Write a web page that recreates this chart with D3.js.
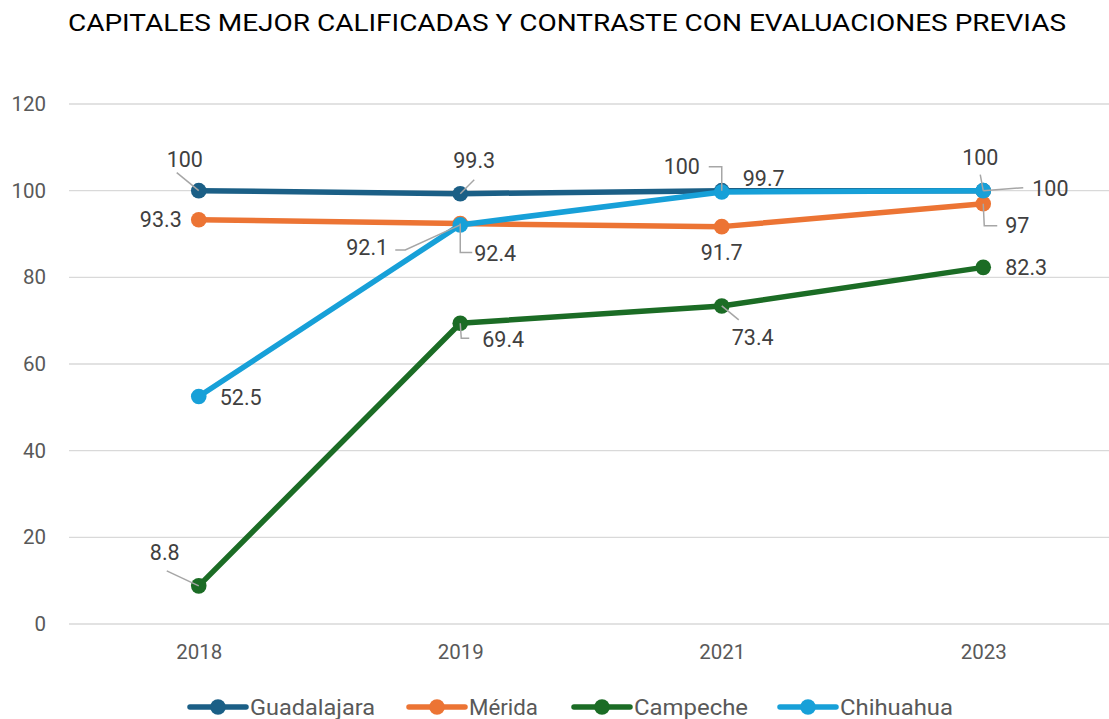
<!DOCTYPE html>
<html>
<head>
<meta charset="utf-8">
<script src="https://cdn.jsdelivr.net/npm/d3@7"></script>
<style>
  body { margin: 0; background: #fff; }
  text { font-family: Roboto, "Noto Sans", sans-serif; }
</style>
</head>
<body>
<svg id="chart" width="1109" height="719"></svg>
<script>
// Data =============================================================
var years = ['2018', '2019', '2021', '2023'];
var yTicks = [0, 20, 40, 60, 80, 100, 120];
var seriesNames = ['Guadalajara', 'Mérida', 'Campeche', 'Chihuahua'];
var guadalajara = [100, 99.3, 100, 100];
var merida = [93.3, 92.4, 91.7, 97];
var campeche = [8.8, 69.4, 73.4, 82.3];
var chihuahua = [52.5, 92.1, 99.7, 100];

var colors = ['#1b5f86', '#ec7434', '#1b6c25', '#17a0d8'];
var series = [guadalajara, merida, campeche, chihuahua];

// label placement: dx, dy, anchor, leader points relative to the point
var labelPos = [
  [
    [-14, -31, 'middle', [[-22, -18], [0, 0]]],
    [14, -33, 'middle', [[14, -14], [0, 0]]],
    [-40, -24, 'middle', [[-13, -24], [0, -24], [0, 0]]],
    [-3, -33, 'middle', [[-3, -16], [0, 0]]]
  ],
  [
    [-17, 0, 'end', null],
    [14, 30, 'start', [[0, 0], [0, 29], [12, 29]]],
    [0, 26, 'middle', null],
    [22, 22, 'start', [[0, 0], [1, 22], [14, 22]]]
  ],
  [
    [-34, -33, 'middle', [[-32, -15], [0, 0]]],
    [22, 16, 'start', [[0, 0], [1, 15], [9, 15]]],
    [31, 32, 'middle', [[0, 0], [17, 14]]],
    [22, 0, 'start', null]
  ],
  [
    [21, 1, 'start', null],
    [-93, 23, 'middle', [[-65, 25], [-55, 25], [0, 0]]],
    [42, -13, 'middle', null],
    [49, -2, 'start', [[0, 0], [40, -3]]]
  ]
];

// Chart =============================================================
var svg = d3.select('#chart');

var x = d3.scalePoint().domain(years).range([68, 1114]).padding(0.5);
var y = d3.scaleLinear().domain([0, 120]).range([624, 104]);

svg.append('text')
  .attr('x', 567).attr('y', 31)
  .attr('text-anchor', 'middle')
  .attr('font-size', 24)
  .attr('fill', '#000')
  .attr('textLength', 998)
  .attr('lengthAdjust', 'spacingAndGlyphs')
  .text('CAPITALES MEJOR CALIFICADAS Y CONTRASTE CON EVALUACIONES PREVIAS');

// gridlines
svg.append('g').selectAll('line')
  .data(yTicks).enter().append('line')
  .attr('x1', 69).attr('x2', 1109)
  .attr('y1', function(d) { return y(d); })
  .attr('y2', function(d) { return y(d); })
  .attr('stroke', '#d9d9d9').attr('stroke-width', 1.3);

// axes
var yAxis = svg.append('g').attr('transform', 'translate(46,0)')
  .call(d3.axisLeft(y).tickValues(yTicks).tickSize(0).tickPadding(0));
yAxis.select('.domain').remove();
yAxis.selectAll('text').attr('font-size', 20.5).attr('fill', '#595959')
  .attr('font-family', 'Roboto, sans-serif');

var xAxis = svg.append('g').attr('transform', 'translate(0,644)')
  .call(d3.axisBottom(x).tickSize(0).tickPadding(0));
xAxis.select('.domain').remove();
xAxis.selectAll('text').attr('font-size', 20.5).attr('fill', '#595959')
  .attr('font-family', 'Roboto, sans-serif');

var line = d3.line()
  .x(function(d, i) { return x(years[i]); })
  .y(function(d) { return y(d); });

series.forEach(function(vals, s) {
  var g = svg.append('g');
  g.append('path')
    .datum(vals)
    .attr('d', line)
    .attr('fill', 'none')
    .attr('stroke', colors[s])
    .attr('stroke-width', 5.5)
    .attr('stroke-linejoin', 'round');
  g.selectAll('circle')
    .data(vals).enter().append('circle')
    .attr('cx', function(d, i) { return x(years[i]); })
    .attr('cy', function(d) { return y(d); })
    .attr('r', 7.8)
    .attr('fill', colors[s]);
});

// leader lines and data labels
series.forEach(function(vals, s) {
  vals.forEach(function(v, i) {
    var lp = labelPos[s][i];
    var px = x(years[i]), py = y(v);
    if (lp[3]) {
      svg.append('polyline')
        .attr('points', lp[3].map(function(p) { return (px + p[0]) + ',' + (py + p[1]); }).join(' '))
        .attr('fill', 'none').attr('stroke', '#a6a6a6').attr('stroke-width', 1.5);
    }
    svg.append('text')
      .attr('x', px + lp[0])
      .attr('y', py + lp[1])
      .attr('text-anchor', lp[2])
      .attr('dy', '0.35em')
      .attr('font-size', 21.5)
      .attr('fill', '#404040')
      .text(v);
  });
});

// legend (narrow font in the original, so stretch the text to its width)
var legendX = [190, 409, 574, 780];
var legendW = [125, 69, 114, 113];
var legend = svg.append('g');
seriesNames.forEach(function(name, s) {
  var lg = legend.append('g').attr('transform', 'translate(' + legendX[s] + ',707)');
  lg.append('line').attr('x1', 0).attr('x2', 56).attr('y1', 0).attr('y2', 0)
    .attr('stroke', colors[s]).attr('stroke-width', 5.5).attr('stroke-linecap', 'round');
  lg.append('circle').attr('cx', 28).attr('cy', 0).attr('r', 7.8).attr('fill', colors[s]);
  lg.append('text').attr('x', 60).attr('y', 0).attr('dy', '0.35em')
    .attr('font-size', 22).attr('fill', '#595959')
    .attr('textLength', legendW[s])
    .attr('lengthAdjust', 'spacingAndGlyphs')
    .text(name);
});
</script>
</body>
</html>
